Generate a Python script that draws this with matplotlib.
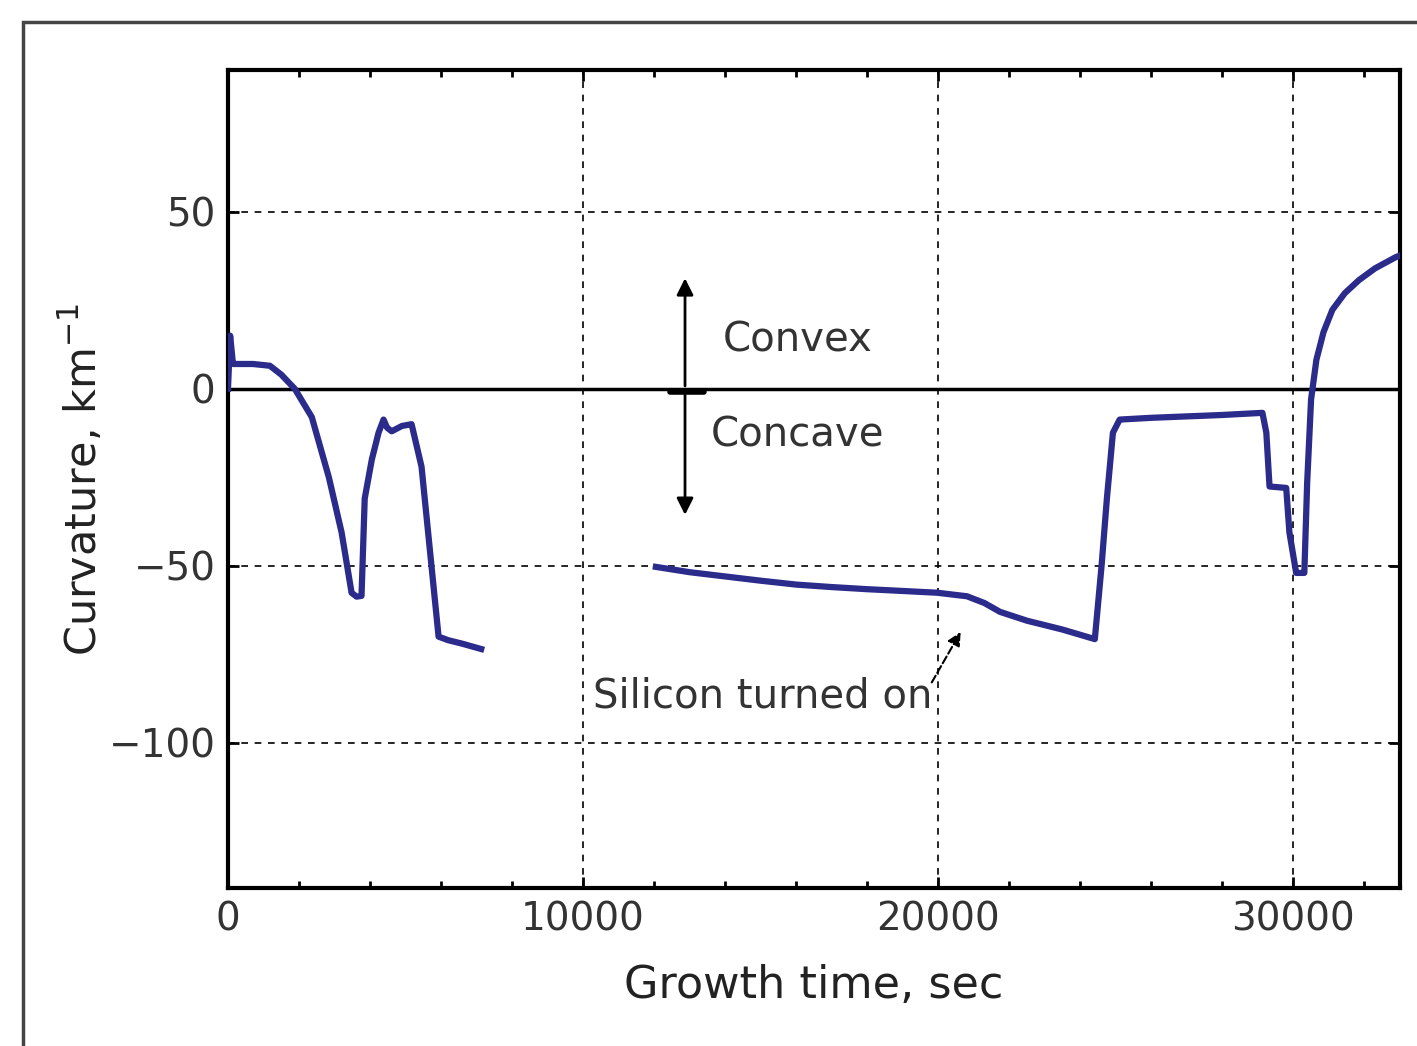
import numpy as np
import matplotlib.pyplot as plt
from matplotlib.patches import Rectangle

# Curvature trace, first run segment
t1 = [0, 60, 140, 200, 700, 1180, 1500, 1880, 2360, 2840, 3200, 3480, 3620, 3760,
      3850, 4050, 4240, 4380, 4480, 4610, 4900, 5170, 5450, 5730, 5930, 6200, 6600, 7130]
k1 = [0, 15, 7, 7, 7, 6.5, 4, 0, -8, -25, -40.6, -57.6, -58.7, -58.5,
      -31, -20, -12.4, -8.7, -11, -12, -10.5, -10, -22, -50, -70, -71, -72, -73.5]

# second segment
t2 = [12050, 13000, 14000, 15000, 16000, 17000, 18000, 19000, 19970, 20810, 21300, 21740,
      22500, 23500, 24410, 24600, 24750, 24920, 25110, 26000, 27000, 28000, 29130,
      29240, 29330, 29800, 29890, 30080, 30310, 30390, 30500, 30650, 30850, 31100,
      31450, 31850, 32300, 32890, 33000]
k2 = [-50.3, -51.8, -53, -54.2, -55.3, -56, -56.6, -57.1, -57.6, -58.6, -60.5, -63,
      -65.5, -68, -70.7, -50, -31, -12.4, -8.7, -8.2, -7.8, -7.4, -6.8,
      -12.4, -27.6, -28, -40.6, -52, -52, -26.5, -3, 8.2, 16, 22.3,
      27, 30.7, 34, 37.2, 37.6]

xmin, xmax = 0, 33000
ymin, ymax = -141, 90

fig = plt.figure(figsize=(14.17, 10.46), dpi=100)
ax = fig.add_axes([0.1609, 0.151, 0.827, 0.782])

ax.plot(t1, k1, color='#2b2b8c', lw=4.5, solid_joinstyle='round', zorder=4)
ax.plot(t2, k2, color='#2b2b8c', lw=4.5, solid_joinstyle='round', zorder=4)
ax.axhline(0, color='black', lw=2.5, zorder=3)

ax.set_xlim(xmin, xmax)
ax.set_ylim(ymin, ymax)
ax.set_xticks([0, 10000, 20000, 30000])
ax.set_xticks(np.arange(0, 33001, 2000), minor=True)
ax.set_yticks([-100, -50, 0, 50])
ax.grid(True, which='major', color='black', linestyle=(0, (4, 4)), lw=1.2)
ax.tick_params(which='both', direction='in', top=True, right=True,
               labelsize=28, labelcolor='#333333', pad=9)
ax.tick_params(which='major', length=8, width=2)
ax.tick_params(which='minor', length=5, width=2)
for s in ax.spines.values():
    s.set_linewidth(3)

ax.set_xlabel('Growth time, sec', fontsize=32, color='#222222', labelpad=18)
ax.set_ylabel('Curvature, km$^{-1}$', fontsize=31, color='#222222', labelpad=2)

# annotations
ax.annotate('', xy=(12870, 32), xytext=(12870, 0),
            arrowprops=dict(arrowstyle='-|>', color='black', lw=2, mutation_scale=25))
ax.annotate('', xy=(12870, -36.4), xytext=(12870, 0),
            arrowprops=dict(arrowstyle='-|>', color='black', lw=2, mutation_scale=25))
ax.plot([12450, 13400], [-0.8, -0.8], color='black', lw=4, solid_capstyle='round', zorder=5)
ax.text(16040, 13.5, 'Convex', fontsize=29, color='#333333', ha='center', va='center')
ax.text(16040, -13.3, 'Concave', fontsize=29, color='#333333', ha='center', va='center')
ax.text(15060, -87, 'Silicon turned on', fontsize=29, color='#333333', ha='center', va='center')
ax.annotate('', xy=(20670, -68), xytext=(19780, -83.6),
            arrowprops=dict(arrowstyle='-|>', color='black', lw=1.5, linestyle='--',
                            mutation_scale=20))

# outer frame
fig.patches.append(Rectangle((23/1417, -0.05), 1.2, 1 - 22/1046 + 0.05,
                             transform=fig.transFigure, fill=False,
                             edgecolor='#444444', lw=2.5))

fig.savefig('out.png', dpi=100)
